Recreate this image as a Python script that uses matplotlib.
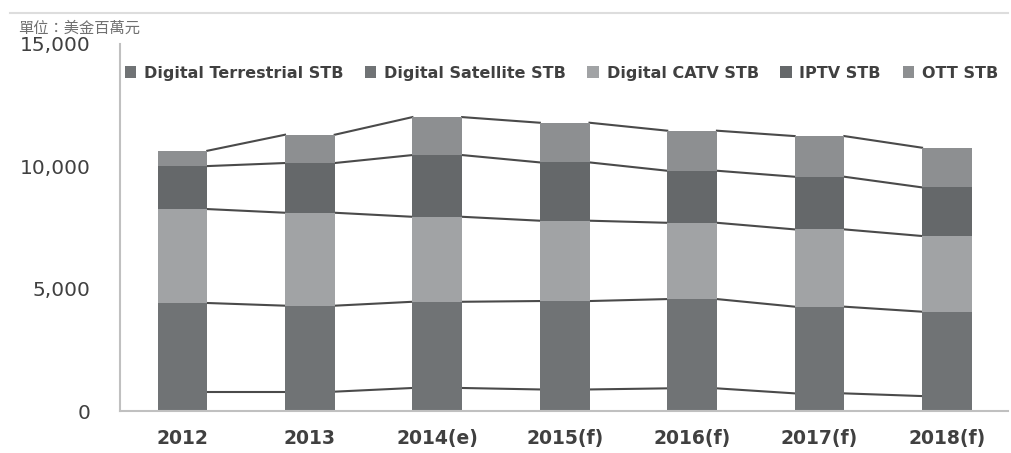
import matplotlib.pyplot as plt
from matplotlib.lines import Line2D
from matplotlib.ticker import FuncFormatter
import numpy as np

plt.rcParams['font.family'] = ['DejaVu Sans', 'Noto Sans CJK TC']

years = ['2012', '2013', '2014(e)', '2015(f)', '2016(f)', '2017(f)', '2018(f)']
series_names = ['Digital Terrestrial STB', 'Digital Satellite STB',
                'Digital CATV STB', 'IPTV STB', 'OTT STB']
# values per year (million USD)
terrestrial = [790, 790, 940, 880, 925, 720, 610]
satellite = [3620, 3510, 3520, 3610, 3645, 3540, 3445]
catv = [3835, 3795, 3470, 3280, 3115, 3155, 3090]
iptv = [1755, 2030, 2520, 2380, 2125, 2150, 1985]
ott = [625, 1155, 1550, 1620, 1635, 1660, 1620]
colors = ['#707375', '#707375', '#a1a3a5', '#65686a', '#8d8f91']

fig = plt.figure(figsize=(10.12, 4.53), dpi=100)
ax = fig.add_axes([0.1186, 0.0927, 0.8775, 0.811])

x = np.arange(len(years))
width = 0.39
bottom = np.zeros(len(years))
for name, vals, c in zip(series_names,
                         [terrestrial, satellite, catv, iptv, ott], colors):
    ax.bar(x, vals, width, bottom=bottom, color=c, label=name, zorder=2)
    bottom = bottom + np.array(vals)
    # series lines between neighbouring bars
    for i in range(len(years) - 1):
        ax.plot([x[i] + width / 2, x[i + 1] - width / 2],
                [bottom[i], bottom[i + 1]], color='#4a4a4a', lw=1.5,
                zorder=1)

ax.set_xlim(-0.49, 6.48)
ax.set_ylim(0, 15000)
ax.set_yticks([0, 5000, 10000, 15000])
ax.yaxis.set_major_formatter(FuncFormatter(lambda v, p: f'{int(v):,}'))
ax.set_xticks(x)
ax.set_xticklabels(years)
ax.tick_params(axis='y', length=0, pad=21, labelsize=14.5, labelcolor='#404040')
ax.tick_params(axis='x', length=0, pad=13, labelsize=13.5,
               labelcolor='#404040')
for t in ax.get_xticklabels():
    t.set_fontweight('bold')
for s in ['top', 'right']:
    ax.spines[s].set_visible(False)
for s in ['left', 'bottom']:
    ax.spines[s].set_color('#c0c0c0')
    ax.spines[s].set_linewidth(1.5)

ax.legend(loc='center left', bbox_to_anchor=(-0.002, 0.92), ncol=5,
          frameon=False, prop={'size': 11.5, 'weight': 'bold'},
          handlelength=0.7, handleheight=0.7, handletextpad=0.5,
          columnspacing=1.35, borderaxespad=0, labelcolor='#404040')

fig.text(0.018, 0.938, '單位：美金百萬元', fontsize=11, color='#707070',
         family=['Noto Sans CJK TC', 'DejaVu Sans'], va='center')
fig.add_artist(Line2D([0.01, 0.996], [0.971, 0.971], color='#dddddd', lw=1.5))

fig.savefig('out.png', dpi=100)
